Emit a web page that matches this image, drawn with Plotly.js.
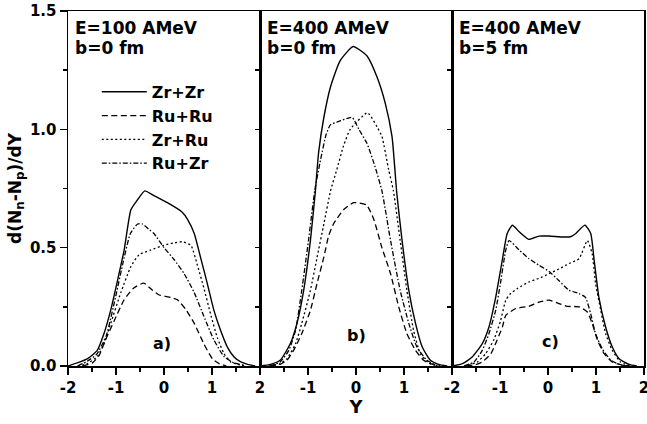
<!DOCTYPE html>
<html>
<head>
<meta charset="utf-8">
<script src="https://cdn.plot.ly/plotly-3.0.1.min.js"></script>
<style>html,body{margin:0;padding:0;background:#fff;}#chart{width:647px;height:424px;}</style>
</head>
<body>
<div id="chart"></div>
<script>
// Series names
const seriesNames = ['Zr+Zr', 'Ru+Ru', 'Zr+Ru', 'Ru+Zr'];
const panelTitles1 = ['E=100 AMeV', 'E=400 AMeV', 'E=400 AMeV'];
const panelTitles2 = ['b=0 fm', 'b=0 fm', 'b=5 fm'];
const panelLabels = ['a)', 'b)', 'c)'];

// Panel a) E=100 AMeV, b=0 fm
const a_ZrZr_x = [-2.0,-1.81,-1.6,-1.39,-1.25,-1.11,-0.97,-0.83,-0.69,-0.56,-0.40,-0.21,0.07,0.38,0.49,0.63,0.76,0.90,1.04,1.18,1.32,1.46,1.6,1.74,1.9];
const a_ZrZr_y = [0,0.013,0.03,0.066,0.137,0.236,0.36,0.49,0.66,0.70,0.74,0.72,0.69,0.65,0.62,0.56,0.46,0.35,0.235,0.15,0.08,0.038,0.017,0.007,0];
const a_RuRu_x = [-1.7,-1.49,-1.35,-1.22,-1.04,-0.83,-0.63,-0.42,-0.24,-0.1,0.14,0.28,0.45,0.63,0.83,1.01,1.15,1.3];
const a_RuRu_y = [0,0.013,0.045,0.11,0.19,0.28,0.33,0.35,0.32,0.30,0.29,0.28,0.24,0.18,0.094,0.03,0.01,0];
const a_ZrRu_x = [-1.8,-1.6,-1.39,-1.25,-1.11,-0.9,-0.69,-0.52,-0.28,0,0.21,0.38,0.56,0.69,0.83,0.97,1.11,1.25,1.39,1.53,1.7];
const a_ZrRu_y = [0,0.01,0.04,0.094,0.18,0.31,0.42,0.47,0.49,0.51,0.52,0.525,0.51,0.43,0.33,0.22,0.12,0.052,0.017,0.007,0];
const a_RuZr_x = [-1.8,-1.6,-1.4,-1.2,-1.0,-0.85,-0.7,-0.55,-0.45,-0.3,-0.21,0,0.21,0.42,0.63,0.83,1.04,1.25,1.46,1.67];
const a_RuZr_y = [0,0.02,0.05,0.13,0.3,0.44,0.56,0.6,0.60,0.575,0.56,0.50,0.45,0.39,0.31,0.21,0.11,0.04,0.013,0.003];

// Panel b) E=400 AMeV, b=0 fm
const b_ZrZr_x = [-2.0,-1.78,-1.58,-1.37,-1.23,-1.09,-0.95,-0.85,-0.78,-0.67,-0.53,-0.33,-0.06,0.23,0.44,0.61,0.75,0.85,0.96,1.10,1.24,1.38,1.55,1.72,1.9];
const b_ZrZr_y = [0,0.007,0.024,0.094,0.18,0.32,0.53,0.73,0.90,1.05,1.18,1.29,1.35,1.31,1.22,1.11,0.97,0.73,0.53,0.32,0.18,0.08,0.024,0.007,0];
const b_RuRu_x = [-1.8,-1.58,-1.44,-1.30,-1.13,-0.95,-0.81,-0.67,-0.57,-0.47,-0.26,-0.05,0.22,0.37,0.54,0.72,0.89,1.06,1.24,1.41,1.55,1.75];
const b_RuRu_y = [0,0.007,0.024,0.066,0.137,0.235,0.35,0.46,0.55,0.60,0.66,0.69,0.68,0.62,0.50,0.39,0.25,0.137,0.066,0.024,0.01,0];
const b_ZrRu_x = [-1.8,-1.58,-1.44,-1.26,-1.13,-0.95,-0.81,-0.67,-0.53,-0.4,-0.26,-0.12,0.24,0.44,0.54,0.68,0.78,0.92,1.06,1.20,1.34,1.51,1.7];
const b_ZrRu_y = [0,0.01,0.03,0.094,0.18,0.32,0.46,0.60,0.74,0.83,0.93,1.0,1.07,1.01,0.97,0.83,0.74,0.53,0.32,0.15,0.052,0.013,0];
const b_RuZr_x = [-1.8,-1.58,-1.40,-1.26,-1.13,-0.99,-0.86,-0.74,-0.62,-0.53,-0.4,-0.08,0.06,0.23,0.40,0.54,0.72,0.92,1.10,1.27,1.48,1.7];
const b_RuZr_y = [0,0.017,0.066,0.15,0.32,0.53,0.74,0.87,0.98,1.02,1.03,1.05,1.0,0.94,0.84,0.74,0.53,0.32,0.18,0.08,0.024,0];

// Panel c) E=400 AMeV, b=5 fm
const c_ZrZr_x = [-2.0,-1.78,-1.58,-1.37,-1.23,-1.09,-0.95,-0.85,-0.74,-0.6,-0.4,-0.19,0.02,0.3,0.47,0.58,0.77,0.89,0.96,1.06,1.2,1.34,1.48,1.69,1.85];
const c_ZrZr_y = [0,0.01,0.038,0.094,0.165,0.29,0.45,0.56,0.595,0.567,0.535,0.549,0.549,0.545,0.546,0.56,0.595,0.56,0.45,0.29,0.165,0.08,0.031,0.007,0];
const c_RuRu_x = [-1.7,-1.51,-1.37,-1.19,-1.06,-0.95,-0.88,-0.67,-0.4,-0.19,0.02,0.23,0.4,0.65,0.82,0.92,1.03,1.17,1.34,1.51,1.7];
const c_RuRu_y = [0,0.006,0.017,0.052,0.11,0.165,0.214,0.243,0.252,0.27,0.278,0.264,0.252,0.25,0.228,0.18,0.11,0.052,0.017,0.006,0];
const c_ZrRu_x = [-1.75,-1.61,-1.47,-1.30,-1.13,-0.99,-0.88,-0.78,-0.64,-0.4,-0.19,0.02,0.23,0.44,0.65,0.82,0.92,0.99,1.10,1.20,1.34,1.51,1.7];
const c_ZrRu_y = [0,0.006,0.017,0.052,0.11,0.19,0.278,0.306,0.327,0.355,0.37,0.39,0.41,0.433,0.454,0.53,0.475,0.35,0.235,0.137,0.066,0.017,0];
const c_RuZr_x = [-1.75,-1.54,-1.37,-1.23,-1.09,-0.99,-0.88,-0.81,-0.6,-0.4,-0.19,0.02,0.23,0.44,0.65,0.78,0.89,0.99,1.13,1.31,1.48,1.65];
const c_RuZr_y = [0,0.017,0.066,0.137,0.235,0.35,0.49,0.53,0.49,0.454,0.426,0.40,0.36,0.32,0.306,0.29,0.22,0.137,0.073,0.024,0.007,0];

// Tick labels
const yTickVals = [0, 0.5, 1.0, 1.5];
const yTickText = ['0.0', '0.5', '1.0', '1.5'];
const xTickVals1 = [-2, -1, 0, 1, 2];
const xTickVals2 = [-1, 0, 1];
const xTickVals3 = [-2, -1, 0, 1, 2];

const FONT = 'DejaVu Sans';
const dashes = ['solid', '6px,3.5px', '2px,2.5px', '5px,2px,1.5px,2px'];
const panels = [
  [[a_ZrZr_x,a_ZrZr_y],[a_RuRu_x,a_RuRu_y],[a_ZrRu_x,a_ZrRu_y],[a_RuZr_x,a_RuZr_y]],
  [[b_ZrZr_x,b_ZrZr_y],[b_RuRu_x,b_RuRu_y],[b_ZrRu_x,b_ZrRu_y],[b_RuZr_x,b_RuZr_y]],
  [[c_ZrZr_x,c_ZrZr_y],[c_RuRu_x,c_RuRu_y],[c_ZrRu_x,c_ZrRu_y],[c_RuZr_x,c_RuZr_y]]
];

const traces = [];
panels.forEach((p, pi) => {
  p.forEach((s, si) => {
    traces.push({
      type: 'scatter', mode: 'lines',
      x: s[0], y: s[1],
      name: seriesNames[si],
      showlegend: pi === 0,
      xaxis: pi === 0 ? 'x' : 'x' + (pi + 1),
      yaxis: pi === 0 ? 'y' : 'y' + (pi + 1),
      line: {color: 'black', width: si === 0 ? 1.4 : 1.3, dash: dashes[si], shape: 'spline', smoothing: 0.5}
    });
  });
});

function xaxis(domain, tickvals, anchor) {
  return {
    domain: domain, anchor: anchor, range: [-2, 2],
    showline: true, linewidth: 1.5, linecolor: 'black', mirror: true,
    ticks: 'outside', ticklen: 7, tickwidth: 1.5, tickcolor: 'black',
    tickmode: 'array', tickvals: tickvals, ticktext: tickvals.map(String),
    ticklabeloverflow: 'allow',
    tickfont: {family: FONT, size: 15, color: 'black', weight: 'bold'},
    showgrid: false, zeroline: false,
    minor: {tickmode: 'array', tickvals: [-1.5, -0.5, 0.5, 1.5], ticks: 'outside', ticklen: 4, tickwidth: 1.5, tickcolor: 'black', showgrid: false}
  };
}
function yaxis(anchor, labels) {
  const ax = {
    anchor: anchor, range: [0, 1.5],
    showline: true, linewidth: 1.5, linecolor: 'black', mirror: true,
    ticks: 'outside', tickwidth: 1.5, tickcolor: 'black',
    showgrid: false, zeroline: false,
    tickfont: {family: FONT, size: 15, color: 'black', weight: 'bold'}
  };
  if (labels) {
    ax.tickmode = 'array'; ax.tickvals = yTickVals; ax.ticktext = yTickText; ax.ticklen = 7;
    ax.minor = {tickmode: 'array', tickvals: [0.25, 0.75, 1.25], ticks: 'outside', ticklen: 4, tickwidth: 1.5, tickcolor: 'black', showgrid: false};
  } else {
    ax.tickmode = 'array'; ax.tickvals = [0.25, 0.5, 0.75, 1.0, 1.25]; ax.ticklen = 4; ax.showticklabels = false;
  }
  return ax;
}

const annotations = [];
['x', 'x2', 'x3'].forEach((xr, i) => {
  const yr = xr.replace('x', 'y');
  annotations.push({xref: xr + ' domain', yref: yr + ' domain', x: 0.028, y: 0.952, xanchor: 'left', yanchor: 'middle', showarrow: false,
    text: panelTitles1[i], font: {family: FONT, size: 17, color: 'black', weight: 'bold'}});
  annotations.push({xref: xr + ' domain', yref: yr + ' domain', x: 0.028, y: 0.895, xanchor: 'left', yanchor: 'middle', showarrow: false,
    text: panelTitles2[i], font: {family: FONT, size: 17, color: 'black', weight: 'bold'}});
});
const labelPos = [[-0.05, 0.096], [0.02, 0.13], [0.05, 0.105]];
['x', 'x2', 'x3'].forEach((xr, i) => {
  annotations.push({xref: xr, yref: xr.replace('x', 'y'), x: labelPos[i][0], y: labelPos[i][1], showarrow: false,
    text: panelLabels[i], font: {family: FONT, size: 16, color: 'black', weight: 'bold'}});
});

const layout = {
  width: 647, height: 424,
  margin: {l: 68, r: 3, t: 11, b: 58},
  paper_bgcolor: 'white', plot_bgcolor: 'white',
  font: {family: FONT, size: 15, color: 'black', weight: 'bold'},
  showlegend: true,
  legend: {x: 0.05, y: 0.82, xanchor: 'left', yanchor: 'top', bgcolor: 'rgba(0,0,0,0)', borderwidth: 0,
    font: {family: FONT, size: 16, color: 'black', weight: 'bold'}, itemwidth: 45, tracegroupgap: 0},
  xaxis: xaxis([0, 1/3], xTickVals1, 'y'),
  xaxis2: Object.assign(xaxis([1/3, 2/3], xTickVals2, 'y2'), {title: {text: 'Y', font: {family: FONT, size: 18, color: 'black', weight: 'bold'}, standoff: 2}}),
  xaxis3: xaxis([2/3, 1], xTickVals3, 'y3'),
  yaxis: Object.assign(yaxis('x', true), {title: {text: 'd(N<sub>n</sub>-N<sub>p</sub>)/dY', font: {family: FONT, size: 17, color: 'black', weight: 'bold'}, standoff: 4}}),
  yaxis2: yaxis('x2', false),
  yaxis3: yaxis('x3', false),
  annotations: annotations
};

Plotly.newPlot('chart', traces, layout, {displayModeBar: false, staticPlot: true});
</script>
</body>
</html>
